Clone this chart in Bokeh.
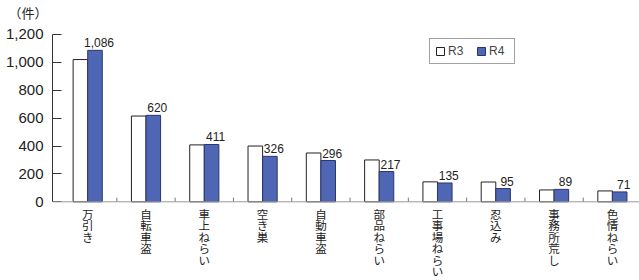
from bokeh.plotting import figure
from bokeh.models import (ColumnDataSource, FixedTicker, NumeralTickFormatter, Range1d,
                          Legend, LegendItem, Span)
from bokeh.core.properties import value
from bokeh.embed import file_html
from bokeh.resources import INLINE

categories = ["万引き", "自転車盗", "車上ねらい", "空き巣", "自動車盗",
              "部品ねらい", "工事場ねらい", "忍込み", "事務所荒し", "色情ねらい"]
r3 = [1020, 615, 408, 400, 350, 300, 143, 142, 85, 78]
r4 = [1086, 620, 411, 326, 296, 217, 135, 95, 89, 71]
y_ticks = [0, 200, 400, 600, 800, 1000, 1200]

xs = list(range(len(categories)))
bw = 0.25
src = ColumnDataSource(dict(
    x3=[i - bw / 2 for i in xs], x4=[i + bw / 2 for i in xs],
    r3=r3, r4=r4, lab=[f"{v:,}" for v in r4]))

# per-character category labels (vertical writing)
cx, ck, ct = [], [], []
for i, c in enumerate(categories):
    for k, ch in enumerate(c):
        cx.append(i)
        ck.append(k)
        ct.append(ch)

TOP_PANEL = 20  # height of the title panel
scale = 168 / 1200  # px per unit
y_end = 1200 + (33 - TOP_PANEL) / scale
y_start = -(280 - 201) / scale

p = figure(width=639, height=280, output_backend="svg", toolbar_location=None,
           x_axis_location=None, title="（件）",
           x_range=Range1d(-0.6038, 9.465), y_range=Range1d(y_start, y_end),
           min_border_left=52, min_border_right=0, min_border_top=0, min_border_bottom=0)
p.outline_line_color = None
p.background_fill_color = "white"
p.border_fill_color = "white"
p.xgrid.visible = False
p.ygrid.visible = False
p.title.text_font = "Noto Sans CJK JP"
p.title.text_font_size = "13px"
p.title.text_font_style = "normal"
p.title.text_color = "#222222"
p.title.align = "left"
p.title.offset = -44
p.title.standoff = 0

b3 = p.vbar(x="x3", top="r3", width=bw, bottom=0, source=src,
            fill_color="white", line_color="#222222", line_width=1)
b4 = p.vbar(x="x4", top="r4", width=bw, bottom=0, source=src,
            fill_color="#4f66b4", line_color="#2a3570", line_width=1)

p.text(x="x4", y="r4", text="lab", source=src, x_offset=4, y_offset=-3,
       text_align="center", text_baseline="bottom",
       text_font=value("Liberation Sans"), text_font_size="12px",
       text_color="#222222")

# x axis line and boundary ticks
p.add_layout(Span(location=0, dimension="width", line_color="#999999", line_width=1))
bx = [i + 0.5 for i in xs]
p.segment(x0=bx, y0=[0] * len(bx), x1=bx, y1=[30] * len(bx), line_color="#777777", line_width=1)

# category labels, one character per line
for k in range(max(len(c) for c in categories)):
    sel = [j for j in range(len(ct)) if ck[j] == k]
    p.text(x=[cx[j] for j in sel], y=[0] * len(sel), text=[ct[j] for j in sel],
           y_offset=4 + 11.5 * k, text_align="center", text_baseline="top",
           text_font=value("Noto Sans CJK JP"), text_font_size="11.5px",
           text_color="#222222")

# Y axis
yax = p.yaxis[0]
yax.bounds = (0, 1200)
yax.ticker = FixedTicker(ticks=y_ticks)
yax.formatter = NumeralTickFormatter(format="0,0")
yax.major_label_text_font = "Liberation Sans"
yax.major_label_text_font_size = "15px"
yax.major_label_text_color = "#222222"
yax.major_tick_in = 9
yax.major_tick_out = 0
yax.minor_tick_in = 0
yax.minor_tick_out = 0
yax.axis_line_color = "#333333"
yax.major_tick_line_color = "#333333"
yax.major_label_standoff = 9

legend = Legend(items=[LegendItem(label="R3", renderers=[b3]),
                       LegendItem(label="R4", renderers=[b4])],
                orientation="horizontal", location=(377, 216),
                glyph_width=10, glyph_height=10, spacing=8, padding=5, margin=0,
                label_text_font="Liberation Sans", label_text_font_size="12px",
                label_standoff=3, border_line_color="#444444",
                background_fill_color="white")
p.add_layout(legend)

open("out.html", "w").write(file_html(p, INLINE))
